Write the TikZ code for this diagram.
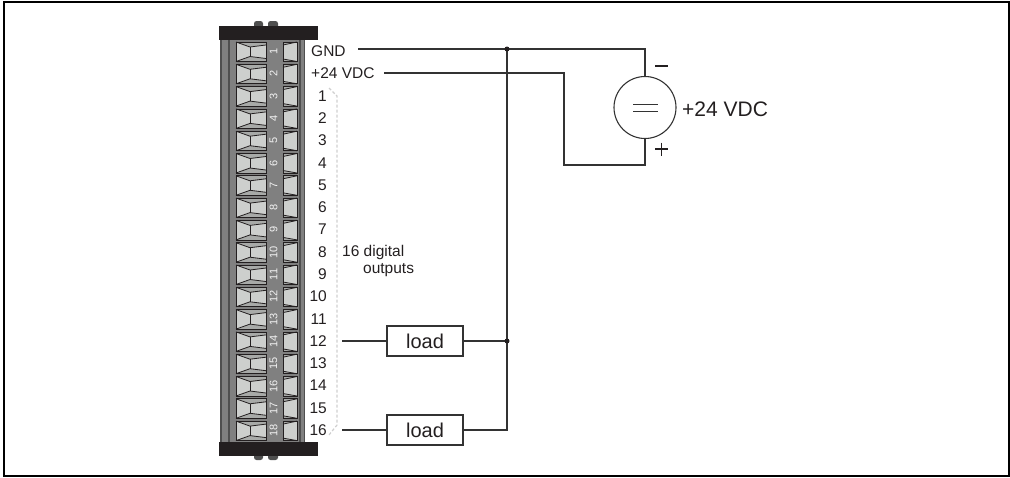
\documentclass[tikz,border=0pt]{standalone}
\usepackage{fontspec}
\setmainfont{Liberation Sans}
\definecolor{ink}{HTML}{231F20}
\definecolor{wire}{HTML}{333333}
\definecolor{body}{HTML}{808080}
\definecolor{edge}{HTML}{4F4F4F}
\definecolor{cell}{HTML}{CDCFCD}
\definecolor{cellb}{HTML}{A8AAA8}
\definecolor{brace}{HTML}{CFCFCF}
\tikzset{
  wireline/.style={draw=wire,line width=1.1pt},
  loadbox/.style={draw=wire,line width=1.1pt,minimum width=76pt,minimum height=30pt,inner sep=0pt,font=\fontsize{20}{20}\selectfont,text=ink},
  lab/.style={inner sep=0pt,text=ink,font=\fontsize{15.5}{16}\selectfont},
  pin/.style={inner sep=0pt,text=ink,anchor=east,font=\fontsize{15.5}{16}\selectfont},
  cellline/.style={draw=ink,line width=0.8pt},
  tiny/.style={inner sep=0pt,text=white!90!gray,rotate=90,font=\fontsize{11}{11}\selectfont},
  dot/.style={circle,fill=ink,inner sep=0pt,minimum size=5pt},
}
\begin{document}
\begin{tikzpicture}[x=1pt,y=-1pt]
\useasboundingbox (0,0) rectangle (1010,477);
\draw[draw=black,line width=1.7pt] (4.2,2.2) rectangle (1009,476);
% clips
\foreach \x/\w in {254/9,268/10}{
  \fill[fill=edge,rounded corners=2.5pt] (\x,21) rectangle (\x+\w,30);
  \fill[fill=edge,rounded corners=2.5pt] (\x,450) rectangle (\x+\w,460);
}
% block body
\fill[fill=body] (220,38) rectangle (305,444);
\fill[fill=edge] (220,38) rectangle (222,444);
\fill[fill=edge] (228,38) rectangle (230,444);
\fill[fill=edge] (299,38) rectangle (301,444);
\fill[fill=edge] (303.5,38) rectangle (305,444);
\fill[fill=ink] (219,26) rectangle (318,40);
\fill[fill=ink] (219,442) rectangle (318,456);
% terminals
\foreach \n [evaluate=\n as \y using {42+(\n-1)*22.3}] in {1,...,18}{
  \fill[fill=cellb] (236,\y) rectangle (266,\y+19.5);
  \fill[fill=cell] (236,\y) -- (250,\y+5) -- (266,\y+3) -- (266,\y+16.5) -- (250,\y+14.5) -- (236,\y+19.5) -- cycle;
  \draw[cellline] (236,\y) rectangle (266,\y+19.5);
  \draw[cellline] (236,\y) -- (250,\y+5) -- (266,\y+3);
  \draw[cellline] (236,\y+19.5) -- (250,\y+14.5) -- (266,\y+16.5);
  \draw[cellline] (250,\y+5) -- (250,\y+14.5);
  \fill[fill=cellb] (283,\y) rectangle (297,\y+19.5);
  \fill[fill=cell] (283,\y+3) -- (297,\y) -- (297,\y+19.5) -- (283,\y+17) -- cycle;
  \draw[cellline] (283,\y) rectangle (297,\y+19.5);
  \draw[cellline] (283,\y+3) -- (297,\y) (283,\y+17) -- (297,\y+19.5);
  \node[tiny] (t\n) at (273.5,\y+9.5) {\n};
}
% brace
\draw[draw=brace,line width=1.2pt,dash pattern=on 3pt off 2pt] (329,88) -- (337,96) -- (337,425) -- (329,435);
% labels
\node[lab,anchor=west] (gnd) at (311,51) {GND};
\node[lab,anchor=west] (vdc) at (311,73) {+24 VDC};
\foreach \n [evaluate=\n as \y using {96+(\n-1)*22.27}] in {1,...,16}{
  \node[pin] (o\n) at (327,\y) {\n};
}
\node[lab,anchor=west] (txa) at (342,252) {16 digital};
\node[lab,anchor=west] (txb) at (363,270) {outputs};
% source
\node[circle,draw=wire,line width=1.1pt,minimum size=62pt,inner sep=0pt] (src) at (645,107.5) {};
\draw[draw=wire,line width=0.9pt] (633,104.5) -- (658,104.5) (633,111) -- (658,111);
\node[inner sep=0pt,text=ink,anchor=west,font=\fontsize{21}{21}\selectfont] (vsrc) at (682,109) {+24 VDC};
\draw[draw=ink,line width=1.2pt] (655,66) -- (668,66);
\draw[draw=ink,line width=1.2pt] (655,149) -- (668,149) (661.5,142.5) -- (661.5,155.5);
% loads
\node[loadbox] (l1) at (425,341) {load};
\node[loadbox] (l2) at (425,430) {load};
\coordinate (a) at (358,49);
\coordinate (b) at (384,73);
\coordinate (c) at (342,341);
\coordinate (d) at (342,430);
\coordinate (j1) at (507,49);
\coordinate (j2) at (507,341);
\coordinate (j3) at (507,430);
\draw[wireline] (a) -- (j1) -- (645,49) -- (src.north);
\draw[wireline] (b) -- (564,73) -- (564,165) -- (645,165) -- (src.south);
\draw[wireline] (j1) -- (j2) -- (j3) -- (l2.east);
\draw[wireline] (c) -- (l1.west) (l1.east) -- (j2) (d) -- (l2.west);
\node[dot] (n1) at (j1) {};
\node[dot] (n2) at (j2) {};
\end{tikzpicture}
\end{document}
